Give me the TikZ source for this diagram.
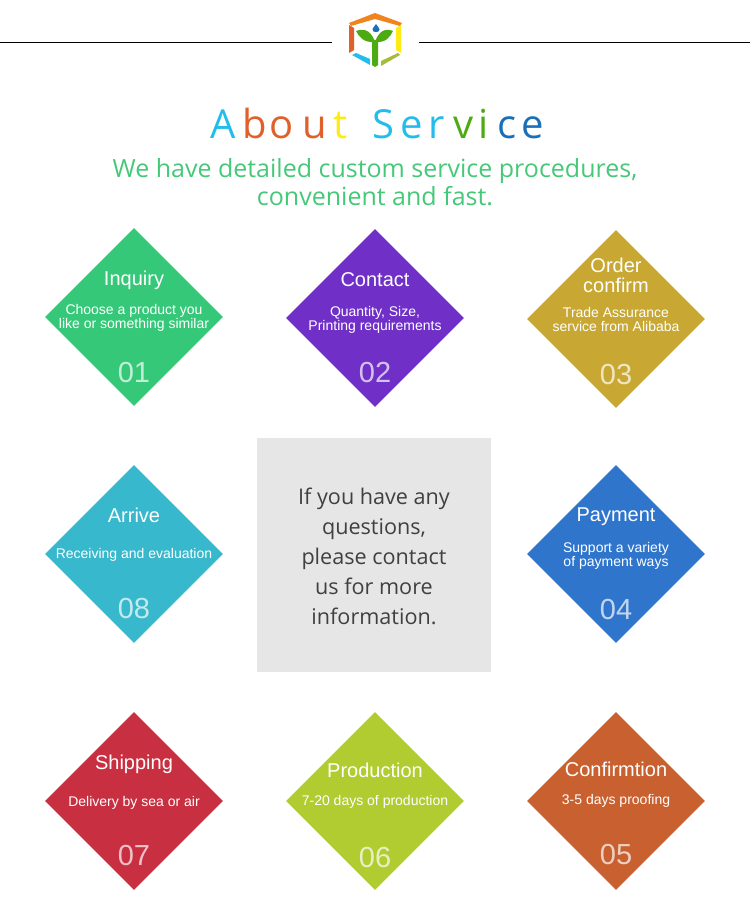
\documentclass[tikz,border=0pt]{standalone}
\usepackage{fontspec}
\setmainfont{Liberation Sans}
\newfontfamily\titlefont{Open Sans}
\usepackage{xcolor}
\usepackage{tikz}
\usetikzlibrary{shapes.geometric}

\definecolor{inquirycol}{HTML}{35C878}
\definecolor{contactcol}{HTML}{7030C8}
\definecolor{ordercol}{HTML}{C8A832}
\definecolor{arrivecol}{HTML}{38B8CC}
\definecolor{paymentcol}{HTML}{3075CC}
\definecolor{shippingcol}{HTML}{C82F40}
\definecolor{productioncol}{HTML}{B0CC30}
\definecolor{confirmcol}{HTML}{C86030}
\definecolor{slogancol}{HTML}{45C878}
\definecolor{boxcol}{HTML}{E6E6E6}
\definecolor{logoblue}{HTML}{1A6FB8}
\definecolor{logosky}{HTML}{22BDEB}
\definecolor{logoorange}{HTML}{F0851E}
\definecolor{logored}{HTML}{E0602C}
\definecolor{logoyellow}{HTML}{FFEB14}
\definecolor{logogreen}{HTML}{4DAA12}
\definecolor{logoolive}{HTML}{A5BC3C}

\tikzset{
    stepbox/.style={diamond, aspect=1, minimum size=178pt, inner sep=0pt, fill=#1},
    headtext/.style={text=white, align=center, inner sep=0pt, font=\fontsize{20}{20}\selectfont},
    subtext/.style={text=white, align=center, inner sep=0pt, font=\fontsize{14}{14}\selectfont},
    numtext/.style={text=white, text opacity=0.7, inner sep=0pt, font=\fontsize{29}{29}\selectfont},
    titleletter/.style={anchor=base, inner sep=0pt, font=\titlefont\fontsize{40}{40}\selectfont},
    slogan/.style={text=slogancol, align=center, inner sep=0pt, font=\titlefont\fontsize{25}{28}\selectfont},
    asktext/.style={text=black!75, align=center, inner sep=0pt, font=\titlefont\fontsize{21.6}{30}\selectfont}
}

\begin{document}
\begin{tikzpicture}[x=1pt, y=-1pt]
    \useasboundingbox (0,0) rectangle (750,904);

    % Rule on both sides of the logo
    \coordinate (ruleAL) at (0,42);
    \coordinate (ruleAR) at (332,42);
    \coordinate (ruleBL) at (419,42);
    \coordinate (ruleBR) at (750,42);
    \draw (ruleAL) -- (ruleAR);
    \draw (ruleBL) -- (ruleBR);

    % Logo
    \fill[logoorange] (349,23) -- (375,13) -- (402,23) -- (400,26) -- (375,19) -- (351,26) -- cycle;
    \fill[logored] (349,25) -- (354,28) -- (354,50) -- (349,53) -- cycle;
    \fill[logoyellow] (401,25) -- (401,53) -- (396,50) -- (396,28) -- cycle;
    \fill[logosky] (352,55) -- (356,53) -- (370,59) -- (370,65) -- cycle;
    \fill[logoolive] (381,61) -- (398,53) -- (400,55) -- (381,66) -- cycle;
    \fill[logogreen] (372,40) -- (378,40) -- (378,65) -- (375,67) -- (372,65) -- cycle;
    \fill[logogreen] (356,31) .. controls (366,27) and (372,33) .. (375,42) .. controls (364,43) and (359,37) .. (356,31) -- cycle;
    \fill[logogreen] (393,31) .. controls (384,27) and (378,33) .. (375,42) .. controls (386,43) and (390,37) .. (393,31) -- cycle;
    \fill[logoblue] (376,24) .. controls (374,27) and (372.5,28) .. (372.5,29.500) .. controls (372.5,33) and (379.5,33) .. (379.5,29.500) .. controls (379.5,28) and (378,27) .. (376,24) -- cycle;

    % Title, one letter at a time
    \foreach \n/\x/\letter/\col in {1/223/A/logosky, 2/255/b/logored, 3/282/o/logored, 4/315/u/logored,
        5/341/t/logoyellow, 6/383/S/logosky, 7/412/e/logosky, 8/437/r/logosky,
        9/464/v/logogreen, 10/484/i/logogreen, 11/507/c/logoblue, 12/533/e/logoblue} {
        \node[titleletter, text=\col] (title\n) at (\x,139) {\letter};
    }

    \node[slogan] (slogan) at (375,182) {We have detailed custom service procedures,\\convenient and fast.};

    % Steps: name/x/y/colour/head/head y/sub/sub y/number/number y
    \foreach \id/\x/\y/\col/\head/\heady/\sub/\suby/\num/\numy in {
        inquiry/134/317/inquirycol/Inquiry/280/{Choose a product you\\like or something similar}/318/01/372.5,
        contact/375/318/contactcol/Contact/280/{Quantity, Size,\\Printing requirements}/320/02/372.5,
        order/616/319/ordercol/{Order\\confirm}/275/{Trade Assurance\\service from Alibaba}/319/03/375,
        arrive/134/554/arrivecol/Arrive/515/{Receiving and evaluation}/555/08/608.5,
        payment/616/554/paymentcol/Payment/517/{Support a variety\\of payment ways}/556/04/609.5,
        shipping/134/801/shippingcol/Shipping/764/{Delivery by sea or air}/803/07/856,
        production/375/801/productioncol/Production/770/{7-20 days of production}/802/06/858,
        confirm/616/801/confirmcol/Confirmtion/769/{3-5 days proofing}/801/05/855} {
        \node[stepbox=\col] (\id) at (\x,\y) {};
        \node[headtext] (\id-head) at (\x,\heady) {\head};
        \node[subtext] (\id-sub) at (\x,\suby) {\sub};
        \node[numtext] (\id-num) at (\x,\numy) {\num};
    }

    % Centre box
    \node[fill=boxcol, minimum size=234pt, inner sep=0pt] (askbox) at (374,555) {};
    \node[asktext] (asktext) at (374,556) {If you have any\\questions,\\please contact\\us for more\\information.};

\end{tikzpicture}
\end{document}
